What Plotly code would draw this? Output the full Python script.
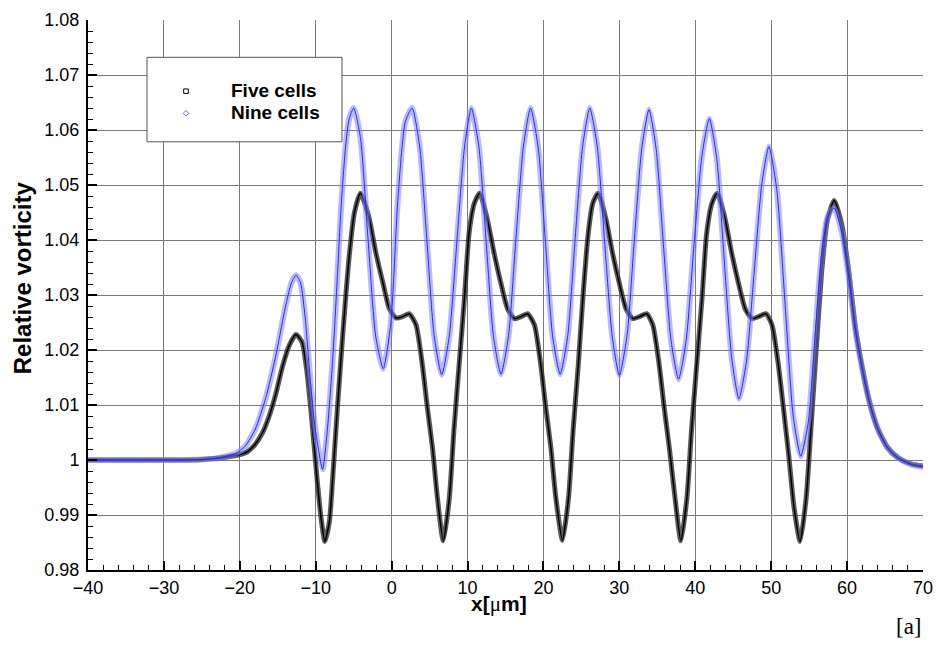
import plotly.graph_objects as go

# ---- data ----
five_x = [-40, -34, -28, -25, -23, -21.5, -20, -19, -18, -17, -16.2, -15.3, -14.4, -13.5, -12.6,
          -11.8, -11.2, -10.5, -9.8, -9.3, -8.8, -8.2, -7.8, -7.2, -6.5, -5.6, -4.9, -4.1, -3.0,
          -2.1, -1.2, -0.3, 0.6, 1.5, 2.3, 3.2, 4.0, 4.7, 5.4, 6.0, 6.8, 7.6, 8.2, 8.9, 9.6, 10.2,
          10.9, 11.6, 12.6, 13.5, 14.4, 15.3, 16.2, 17.1, 17.9, 18.8, 19.6, 20.3, 21.0, 21.6, 22.5,
          23.3, 23.9, 24.6, 25.2, 25.9, 26.5, 27.2, 28.2, 29.1, 30.0, 30.9, 31.8, 32.7, 33.6, 34.4,
          35.2, 35.9, 36.6, 37.3, 38.1, 38.9, 39.5, 40.2, 40.9, 41.5, 42.2, 42.9, 43.9, 44.8, 45.7,
          46.6, 47.5, 48.4, 49.3, 50.1, 50.9, 51.6, 52.3, 53.0, 53.8, 54.6, 55.3, 56.0, 56.7, 57.4,
          58.3, 59.3, 60.2, 61.1, 62.0, 62.9, 64.0, 65.3, 66.7, 68.4, 70.0]
five_y = [1.0000, 1.0000, 1.0000, 1.0001, 1.0003, 1.0006, 1.0010, 1.0015, 1.0028, 1.0050, 1.0077,
          1.0118, 1.0169, 1.0208, 1.0228, 1.0214, 1.0165, 1.0070, 0.9962, 0.9895, 0.9852, 0.9888,
          0.9960, 1.0083, 1.0217, 1.0369, 1.0450, 1.0485, 1.0442, 1.0378, 1.0325, 1.0275, 1.0258,
          1.0261, 1.0266, 1.0246, 1.0178, 1.0096, 1.0020, 0.9935, 0.9853, 0.9931, 1.0053, 1.0175,
          1.0296, 1.0412, 1.0467, 1.0485, 1.0438, 1.0376, 1.0321, 1.0274, 1.0257, 1.0261, 1.0266,
          1.0246, 1.0178, 1.0096, 1.0020, 0.9935, 0.9854, 0.9931, 1.0053, 1.0175, 1.0296, 1.0412,
          1.0467, 1.0485, 1.0440, 1.0376, 1.0321, 1.0274, 1.0257, 1.0261, 1.0266, 1.0246, 1.0178,
          1.0096, 1.0020, 0.9935, 0.9853, 0.9931, 1.0053, 1.0175, 1.0296, 1.0412, 1.0467, 1.0485,
          1.0440, 1.0376, 1.0321, 1.0274, 1.0257, 1.0261, 1.0266, 1.0246, 1.0178, 1.0096, 1.0010,
          0.9915, 0.9852, 0.9930, 1.0070, 1.0215, 1.0350, 1.0436, 1.0472, 1.0428, 1.0345, 1.0240,
          1.0168, 1.0108, 1.0058, 1.0023, 1.0004, 0.9993, 0.9989]

nine_x = [-40, -34, -28, -25, -23, -21.5, -20.5, -19.3, -18, -16.6, -15.3, -14.0, -13.2, -12.6,
          -12.0, -11.4, -10.8, -10.1, -9.1, -8.5, -7.8, -7.2, -6.7, -6.1, -5.6, -5.0, -4.1, -3.1,
          -2.1, -1.1, -0.1, 0.8, 1.8, 2.7, 3.7, 4.65, 5.6, 6.6, 7.6, 8.6, 9.6, 10.5, 11.5, 12.45,
          13.4, 14.4, 15.4, 16.35, 17.35, 18.3, 19.3, 20.25, 21.2, 22.2, 23.2, 24.15, 25.15, 26.1,
          27.1, 28.05, 29.05, 30.0, 31.0, 31.95, 32.95, 33.9, 34.85, 35.8, 36.8, 37.8, 38.8, 39.8,
          40.85, 41.85, 42.85, 43.8, 44.8, 45.75, 46.75, 47.75, 48.75, 49.7, 50.75, 51.8, 52.9,
          53.9, 54.9, 55.8, 56.7, 57.5, 58.3, 59.3, 60.2, 61.1, 62.0, 62.9, 64.0, 65.3, 66.7, 68.4,
          70.0]
nine_y = [1.0000, 1.0000, 1.0000, 1.0001, 1.0003, 1.0008, 1.0012, 1.0025, 1.0055, 1.0112, 1.0187,
          1.0278, 1.0322, 1.0336, 1.0322, 1.0260, 1.0160, 1.0060, 0.9983, 1.0050, 1.0175, 1.0320,
          1.0450, 1.0565, 1.0620, 1.0640, 1.0585, 1.0400, 1.0225, 1.0166, 1.0250, 1.0470, 1.0615,
          1.0640, 1.0569, 1.0398, 1.0226, 1.0155, 1.0226, 1.0398, 1.0569, 1.0640, 1.0569, 1.0398,
          1.0226, 1.0156, 1.0226, 1.0398, 1.0569, 1.0640, 1.0569, 1.0398, 1.0226, 1.0156, 1.0226,
          1.0398, 1.0569, 1.0640, 1.0569, 1.0398, 1.0226, 1.0154, 1.0225, 1.0396, 1.0566, 1.0637,
          1.0565, 1.0392, 1.0218, 1.0147, 1.0218, 1.0385, 1.0550, 1.0621, 1.0546, 1.0366, 1.0185,
          1.0111, 1.0180, 1.0340, 1.0500, 1.0570, 1.0490, 1.0290, 1.0080, 1.0007, 1.0070, 1.0230,
          1.0380, 1.0445, 1.0458, 1.0415, 1.0335, 1.0235, 1.0165, 1.0108, 1.0058, 1.0023, 1.0004,
          0.9992, 0.9987]

x_ticks = [-40, -30, -20, -10, 0, 10, 20, 30, 40, 50, 60, 70]
y_ticks = [0.98, 0.99, 1.00, 1.01, 1.02, 1.03, 1.04, 1.05, 1.06, 1.07, 1.08]
y_labels = ["0.98", "0.99", "1", "1.01", "1.02", "1.03", "1.04", "1.05", "1.06", "1.07", "1.08"]
series_names = ["Five cells", "Nine cells"]

FONT = "Liberation Sans, Arial, sans-serif"

# plot-area geometry (pixels) used only to place decorations in paper coordinates
L, R, T, B = 88, 923, 10, 570
def fx(px):
    return (px - L) / (R - L)
def fy(py):
    return (B - py) / (B - T)

fig = go.Figure()
# Five cells: dense black squares -> dark band
fig.add_trace(go.Scatter(x=five_x, y=five_y, mode="lines",
                         line=dict(color="rgba(50,50,50,0.8)", width=5, shape="spline", smoothing=0.6),
                         showlegend=False, hoverinfo="skip"))
fig.add_trace(go.Scatter(x=five_x, y=five_y, mode="lines", name=series_names[0],
                         line=dict(color="black", width=1.5, shape="spline", smoothing=0.6),
                         showlegend=False))
# Nine cells: light-blue diamonds with a thin blue line
fig.add_trace(go.Scatter(x=nine_x, y=nine_y, mode="lines",
                         line=dict(color="rgba(130,130,255,0.55)", width=6, shape="spline", smoothing=0.6),
                         showlegend=False, hoverinfo="skip"))
fig.add_trace(go.Scatter(x=nine_x, y=nine_y, mode="lines", name=series_names[1],
                         line=dict(color="rgb(40,40,255)", width=1, shape="spline", smoothing=0.6),
                         showlegend=False))

# legend box + glyphs + text (drawn as decorations)
sq = 2.3
dm = 2.8
LY1, LY2 = 82, 104.5
shapes = [
    dict(type="rect", xref="paper", yref="paper", x0=fx(147), x1=fx(342), y0=fy(134), y1=fy(48),
         line=dict(color="#555555", width=1), fillcolor="white", layer="above"),
    dict(type="rect", xref="paper", yref="paper", x0=fx(186 - sq), x1=fx(186 + sq),
         y0=fy(LY1 + 0.5 + sq), y1=fy(LY1 + 0.5 - sq), line=dict(color="black", width=1), layer="above"),
    dict(type="path", xref="paper", yref="paper",
         path=f"M {fx(186 - dm)} {fy(LY2 + 0.5)} L {fx(186)} {fy(LY2 + 0.5 - dm)} L {fx(186 + dm)} {fy(LY2 + 0.5)} L {fx(186)} {fy(LY2 + 0.5 + dm)} Z",
         line=dict(color="rgb(110,110,255)", width=1), layer="above"),
]

annotations = [
    dict(text=f"<b>{series_names[0]}</b>", xref="paper", yref="paper", x=fx(229), y=fy(LY1),
         xanchor="left", yanchor="middle", showarrow=False,
         font=dict(family=FONT, size=19, color="black")),
    dict(text=f"<b>{series_names[1]}</b>", xref="paper", yref="paper", x=fx(229), y=fy(LY2),
         xanchor="left", yanchor="middle", showarrow=False,
         font=dict(family=FONT, size=19, color="black")),
    dict(text="<b>Relative vorticity</b>", xref="paper", yref="paper", x=fx(22), y=fy(273),
         textangle=-90, showarrow=False, font=dict(family=FONT, size=24, color="black"),
         xanchor="center", yanchor="middle"),
    dict(text="<b>x[</b><span style='font-family:Liberation Serif'>μ</span><b>m]</b>",
         xref="paper", yref="paper", x=fx(499), y=fy(605), showarrow=False,
         font=dict(family=FONT, size=21, color="black"), xanchor="center", yanchor="middle"),
    dict(text="[a]", xref="paper", yref="paper", x=fx(909), y=fy(628), showarrow=False,
         font=dict(family="Liberation Serif, Times New Roman, serif", size=23, color="black"),
         xanchor="center", yanchor="middle"),
]

fig.update_layout(
    width=948, height=645,
    margin=dict(l=L, r=948 - R, t=T, b=645 - B),
    paper_bgcolor="white", plot_bgcolor="white",
    font=dict(family=FONT, size=18, color="black"),
    showlegend=False,
    xaxis=dict(range=[-40, 70], tickvals=x_ticks, ticks="inside", ticklen=9, tickwidth=2,
               tickcolor="black", showline=True, linecolor="black", linewidth=2,
               showgrid=True, gridcolor="#7a7a7a", gridwidth=1, zeroline=False,
               minor=dict(dtick=2, ticks="inside", ticklen=5, tickwidth=1, tickcolor="black", showgrid=False),
               tickfont=dict(size=18), ticklabelstandoff=0),
    yaxis=dict(range=[0.98, 1.08], tickvals=y_ticks, ticktext=y_labels, ticks="inside", ticklen=9,
               tickwidth=2, tickcolor="black", showline=True, linecolor="black", linewidth=2,
               showgrid=True, gridcolor="#7a7a7a", gridwidth=1, zeroline=False,
               minor=dict(dtick=0.002, ticks="inside", ticklen=5, tickwidth=1, tickcolor="black", showgrid=False),
               tickfont=dict(size=18), ticklabelstandoff=3),
    shapes=shapes,
    annotations=annotations,
)

fig.write_html("out.html")
